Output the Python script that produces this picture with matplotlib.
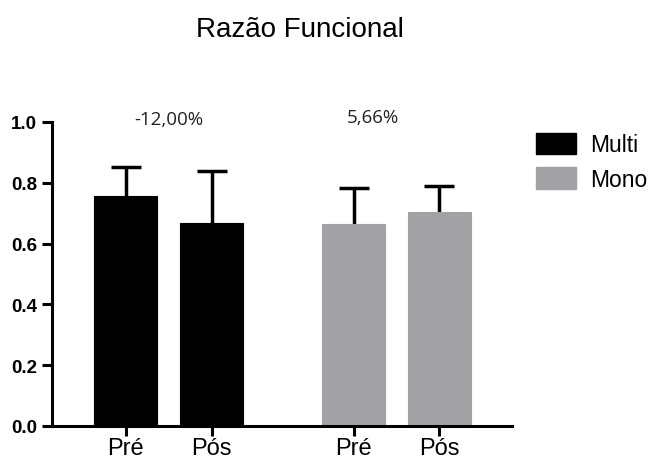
import matplotlib
matplotlib.use("Agg")
import matplotlib.pyplot as plt
from matplotlib.patches import Patch

groups = ["Multi", "Mono"]
conditions = ["Pré", "Pós"]
multi_means = [0.757, 0.668]
multi_err = [0.095, 0.171]
mono_means = [0.664, 0.704]
mono_err = [0.119, 0.085]
changes = ["-12,00%", "5,66%"]
yticks = [0.0, 0.2, 0.4, 0.6, 0.8, 1.0]

colors = ["#000000", "#a2a1a6"]

fig = plt.figure(figsize=(6.56, 4.64), dpi=100)
ax = fig.add_axes([0.079, 0.080, 0.701, 0.655])

pos_multi = [0, 1]
pos_mono = [2.65, 3.65]
w = 0.73

for pos, means, errs, c in [(pos_multi, multi_means, multi_err, colors[0]),
                            (pos_mono, mono_means, mono_err, colors[1])]:
    ax.bar(pos, means, width=w, color=c, edgecolor=c, linewidth=0.8, zorder=2)
    eb = ax.errorbar(pos, means, yerr=[[0] * len(errs), errs], fmt="none",
                     ecolor="black", elinewidth=2.5, capsize=11, capthick=2.5, zorder=1)
    caps = eb.lines[1]
    if len(caps) == 2:
        caps[0].set_visible(False)

ax.set_xlim(-0.86, 4.49)
ax.set_ylim(0, 1.0)
ax.set_yticks(yticks)
ax.set_yticklabels([f"{t:.1f}" for t in yticks], fontsize=13.5, fontweight="bold",
                   family="Liberation Sans")
ax.set_xticks(pos_multi + pos_mono)
ax.set_xticklabels(conditions + conditions, fontsize=17, family="Liberation Sans")

for s in ["top", "right"]:
    ax.spines[s].set_visible(False)
for s in ["left", "bottom"]:
    ax.spines[s].set_linewidth(2.2)
ax.tick_params(axis="both", width=2.2, length=7, direction="out")
ax.tick_params(axis="x", pad=1)

ax.text(0.5, 1.01, changes[0], ha="center", va="center", fontsize=13.5,
        family="Open Sans", color="#222222", clip_on=False)
ax.text(2.87, 1.016, changes[1], ha="center", va="center", fontsize=13.5,
        family="Open Sans", color="#222222", clip_on=False)

fig.text(0.457, 0.935, "Razão Funcional", ha="center", va="center", fontsize=20,
         family="Liberation Sans")

handles = [Patch(facecolor=c, edgecolor=c) for c in colors]
fig.legend(handles, groups, loc="upper left", bbox_to_anchor=(0.81, 0.722),
           frameon=False, prop={"family": "Liberation Sans", "size": 16.5},
           handlelength=1.75, handleheight=1.05, handletextpad=0.6, labelspacing=0.5,
           borderpad=0.2, borderaxespad=0.0)

fig.savefig("out.png", dpi=100)
